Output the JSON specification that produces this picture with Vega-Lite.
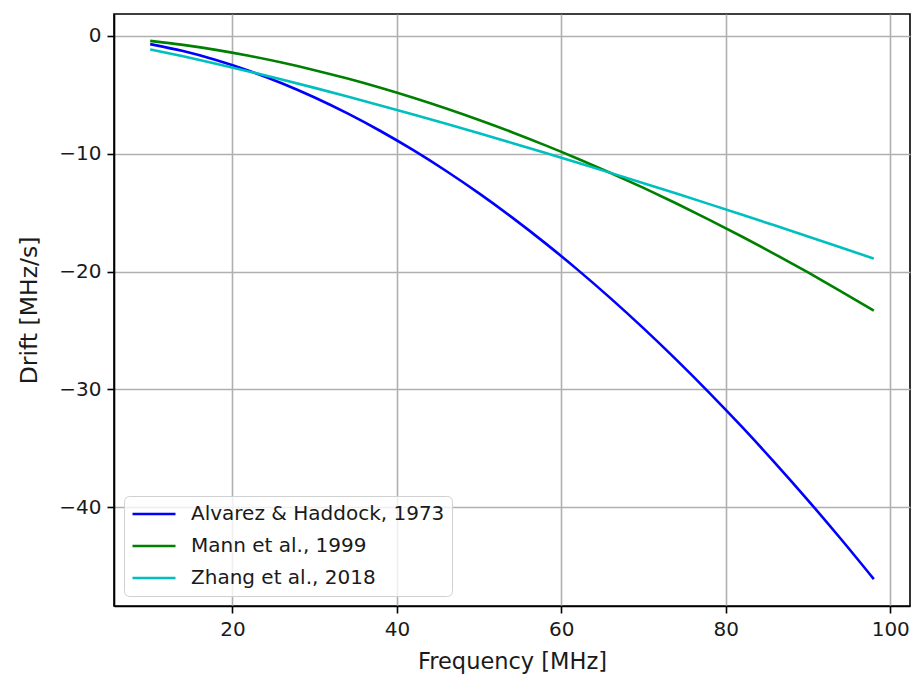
{
  "$schema": "https://vega.github.io/schema/vega-lite/v6.json",
  "autosize": {"type": "none"},
  "padding": {"left": 114, "top": 14, "right": 3, "bottom": 69},
  "width": 796,
  "height": 592,
  "background": "white",
  "config": {
    "font": "DejaVu Sans",
    "view": {"stroke": "black", "strokeWidth": 1.6},
    "axis": {
      "labelFont": "DejaVu Sans",
      "titleFont": "DejaVu Sans",
      "labelFontSize": 20,
      "titleFontSize": 22.5,
      "titleFontWeight": "normal",
      "labelColor": "#1a1a1a",
      "titleColor": "#1a1a1a",
      "domainColor": "black",
      "domainWidth": 1.6,
      "tickColor": "black",
      "tickWidth": 1.6,
      "tickSize": 7,
      "labelPadding": 6,
      "gridColor": "#b0b0b0",
      "gridWidth": 1.6,
      "grid": true
    },
    "legend": {
      "labelFont": "DejaVu Sans",
      "labelFontSize": 20,
      "labelColor": "#1a1a1a"
    }
  },
  "data": {
    "values": [
      {"f": 10, "drift": -0.692, "model": "Alvarez & Haddock, 1973"},
      {"f": 14, "drift": -1.285, "model": "Alvarez & Haddock, 1973"},
      {"f": 18, "drift": -2.040, "model": "Alvarez & Haddock, 1973"},
      {"f": 22, "drift": -2.952, "model": "Alvarez & Haddock, 1973"},
      {"f": 26, "drift": -4.014, "model": "Alvarez & Haddock, 1973"},
      {"f": 30, "drift": -5.223, "model": "Alvarez & Haddock, 1973"},
      {"f": 34, "drift": -6.575, "model": "Alvarez & Haddock, 1973"},
      {"f": 38, "drift": -8.069, "model": "Alvarez & Haddock, 1973"},
      {"f": 42, "drift": -9.700, "model": "Alvarez & Haddock, 1973"},
      {"f": 46, "drift": -11.468, "model": "Alvarez & Haddock, 1973"},
      {"f": 50, "drift": -13.369, "model": "Alvarez & Haddock, 1973"},
      {"f": 54, "drift": -15.403, "model": "Alvarez & Haddock, 1973"},
      {"f": 58, "drift": -17.567, "model": "Alvarez & Haddock, 1973"},
      {"f": 62, "drift": -19.861, "model": "Alvarez & Haddock, 1973"},
      {"f": 66, "drift": -22.282, "model": "Alvarez & Haddock, 1973"},
      {"f": 70, "drift": -24.830, "model": "Alvarez & Haddock, 1973"},
      {"f": 74, "drift": -27.503, "model": "Alvarez & Haddock, 1973"},
      {"f": 78, "drift": -30.301, "model": "Alvarez & Haddock, 1973"},
      {"f": 82, "drift": -33.221, "model": "Alvarez & Haddock, 1973"},
      {"f": 86, "drift": -36.264, "model": "Alvarez & Haddock, 1973"},
      {"f": 90, "drift": -39.428, "model": "Alvarez & Haddock, 1973"},
      {"f": 94, "drift": -42.713, "model": "Alvarez & Haddock, 1973"},
      {"f": 98, "drift": -46.117, "model": "Alvarez & Haddock, 1973"},
      {"f": 10, "drift": -0.420, "model": "Mann et al., 1999"},
      {"f": 14, "drift": -0.759, "model": "Mann et al., 1999"},
      {"f": 18, "drift": -1.182, "model": "Mann et al., 1999"},
      {"f": 22, "drift": -1.683, "model": "Mann et al., 1999"},
      {"f": 26, "drift": -2.258, "model": "Mann et al., 1999"},
      {"f": 30, "drift": -2.904, "model": "Mann et al., 1999"},
      {"f": 34, "drift": -3.620, "model": "Mann et al., 1999"},
      {"f": 38, "drift": -4.403, "model": "Mann et al., 1999"},
      {"f": 42, "drift": -5.251, "model": "Mann et al., 1999"},
      {"f": 46, "drift": -6.163, "model": "Mann et al., 1999"},
      {"f": 50, "drift": -7.137, "model": "Mann et al., 1999"},
      {"f": 54, "drift": -8.172, "model": "Mann et al., 1999"},
      {"f": 58, "drift": -9.267, "model": "Mann et al., 1999"},
      {"f": 62, "drift": -10.422, "model": "Mann et al., 1999"},
      {"f": 66, "drift": -11.634, "model": "Mann et al., 1999"},
      {"f": 70, "drift": -12.903, "model": "Mann et al., 1999"},
      {"f": 74, "drift": -14.229, "model": "Mann et al., 1999"},
      {"f": 78, "drift": -15.610, "model": "Mann et al., 1999"},
      {"f": 82, "drift": -17.046, "model": "Mann et al., 1999"},
      {"f": 86, "drift": -18.537, "model": "Mann et al., 1999"},
      {"f": 90, "drift": -20.081, "model": "Mann et al., 1999"},
      {"f": 94, "drift": -21.678, "model": "Mann et al., 1999"},
      {"f": 98, "drift": -23.328, "model": "Mann et al., 1999"},
      {"f": 10, "drift": -1.141, "model": "Zhang et al., 2018"},
      {"f": 14, "drift": -1.726, "model": "Zhang et al., 2018"},
      {"f": 18, "drift": -2.352, "model": "Zhang et al., 2018"},
      {"f": 22, "drift": -3.010, "model": "Zhang et al., 2018"},
      {"f": 26, "drift": -3.696, "model": "Zhang et al., 2018"},
      {"f": 30, "drift": -4.408, "model": "Zhang et al., 2018"},
      {"f": 34, "drift": -5.141, "model": "Zhang et al., 2018"},
      {"f": 38, "drift": -5.895, "model": "Zhang et al., 2018"},
      {"f": 42, "drift": -6.668, "model": "Zhang et al., 2018"},
      {"f": 46, "drift": -7.457, "model": "Zhang et al., 2018"},
      {"f": 50, "drift": -8.262, "model": "Zhang et al., 2018"},
      {"f": 54, "drift": -9.083, "model": "Zhang et al., 2018"},
      {"f": 58, "drift": -9.917, "model": "Zhang et al., 2018"},
      {"f": 62, "drift": -10.765, "model": "Zhang et al., 2018"},
      {"f": 66, "drift": -11.625, "model": "Zhang et al., 2018"},
      {"f": 70, "drift": -12.498, "model": "Zhang et al., 2018"},
      {"f": 74, "drift": -13.382, "model": "Zhang et al., 2018"},
      {"f": 78, "drift": -14.277, "model": "Zhang et al., 2018"},
      {"f": 82, "drift": -15.183, "model": "Zhang et al., 2018"},
      {"f": 86, "drift": -16.099, "model": "Zhang et al., 2018"},
      {"f": 90, "drift": -17.025, "model": "Zhang et al., 2018"},
      {"f": 94, "drift": -17.960, "model": "Zhang et al., 2018"},
      {"f": 98, "drift": -18.905, "model": "Zhang et al., 2018"}
    ]
  },
  "mark": {"type": "line", "strokeWidth": 2.6, "interpolate": "monotone"},
  "encoding": {
    "x": {
      "field": "f",
      "type": "quantitative",
      "title": "Frequency [MHz]",
      "scale": {"domain": [5.6, 102.4], "nice": false, "zero": false},
      "axis": {"values": [20, 40, 60, 80, 100], "titlePadding": 11}
    },
    "y": {
      "field": "drift",
      "type": "quantitative",
      "title": "Drift [MHz/s]",
      "scale": {"domain": [-48.4, 1.865], "nice": false, "zero": false},
      "axis": {
        "values": [0, -10, -20, -30, -40],
        "labelExpr": "replace(datum.label, '-', '\u2212')",
        "titleFontSize": 23.5,
        "titlePadding": 17
      }
    },
    "color": {
      "field": "model",
      "type": "nominal",
      "sort": ["Alvarez & Haddock, 1973", "Mann et al., 1999", "Zhang et al., 2018"],
      "scale": {
        "domain": ["Alvarez & Haddock, 1973", "Mann et al., 1999", "Zhang et al., 2018"],
        "range": ["#0000ff", "#008000", "#00bfbf"]
      },
      "legend": {
        "title": null,
        "orient": "bottom-left",
        "offset": 10,
        "symbolType": "stroke",
        "symbolSize": 1850,
        "symbolStrokeWidth": 2.6,
        "clipHeight": 22,
        "labelLimit": 0,
        "labelOffset": 14,
        "rowPadding": 10,
        "padding": 7,
        "fillColor": "rgba(255,255,255,0.8)",
        "strokeColor": "#d0d0d0",
        "cornerRadius": 5
      }
    }
  }
}
